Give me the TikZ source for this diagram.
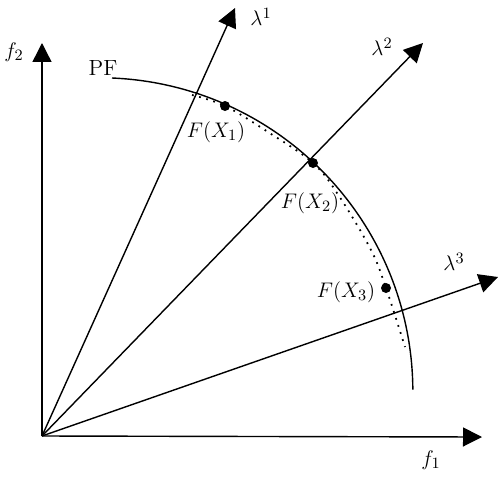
\documentclass[tikz,border=0pt]{standalone}
\usetikzlibrary{arrows.meta}
\begin{document}
\begin{tikzpicture}[x=0.02cm,y=0.02cm,line width=0.8pt,font=\fontsize{12.5}{15}\selectfont]
	\tikzstyle{arr}=[-{Triangle[length=0.38cm,width=0.38cm]}]
	\tikzstyle{pt}=[circle,fill=black,inner sep=0pt,minimum size=0.2cm]
	\tikzstyle{lbl}=[inner sep=1pt]
	\useasboundingbox (0,0) rectangle (500,478);
	% axes and weight vectors
	\coordinate (O) at (42,42);
	\coordinate (f2end) at (42,435);
	\coordinate (f1end) at (482,41);
	\coordinate (l1end) at (235,470);
	\coordinate (l2end) at (423,435);
	\coordinate (l3end) at (498,201);
	\draw[arr](O)--(f2end);
	\draw[arr](O)--(f1end);
	\draw[arr](O)--(l1end);
	\draw[arr](O)--(l2end);
	\draw[arr](O)--(l3end);
	\node(f2)[lbl] at (14,426) {$f_2$};
	\node(f1)[lbl] at (431,18) {$f_1$};
	\node(l1)[lbl] at (261,461) {$\lambda^1$};
	\node(l2)[lbl] at (382,431) {$\lambda^2$};
	\node(l3)[lbl] at (454,216) {$\lambda^3$};
	% Pareto front
	\coordinate (pfstart) at (112,400);
	\draw(pfstart) arc[start angle=87.6,end angle=0.4,radius=314];
	\node(PF)[lbl] at (103,410) {PF};
	% solutions
	\node(X1)[pt] at (225,372) {};
	\node(X2)[pt] at (313,315) {};
	\node(X3)[pt] at (386,190) {};
	\draw[line width=1pt,dash pattern=on 1pt off 3.2pt] plot[smooth,tension=0.6] coordinates
		{(192,383) (X1) (268,346) (X2) (339,282) (371,228) (X3) (405,131)};
	\node(FX1)[lbl] at (216,346) {$F(X_1)$};
	\node(FX2)[lbl] at (310,275) {$F(X_2)$};
	\node(FX3)[lbl] at (346,186) {$F(X_3)$};
\end{tikzpicture}
\end{document}
